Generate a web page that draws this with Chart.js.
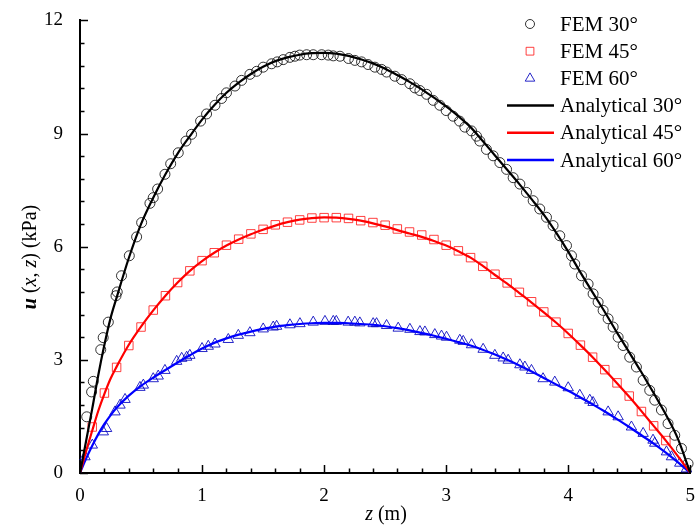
<!DOCTYPE html>
<html>
<head>
<meta charset="utf-8">
<script src="https://cdn.jsdelivr.net/npm/chart.js@4.4.1/dist/chart.umd.min.js"></script>
<style>
  html, body { margin: 0; padding: 0; background: #fff; }
  #wrap { width: 699px; height: 529px; }
</style>
</head>
<body>
<div id="wrap"><canvas id="myChart" width="699" height="529"></canvas></div>
<script>
// analytical curves, z (m) -> u (kPa)
const zLine = [0, 0.05, 0.1, 0.15, 0.2, 0.25, 0.3, 0.4, 0.5, 0.6, 0.7, 0.8, 0.9, 1.0, 1.1, 1.2, 1.3, 1.4, 1.5, 1.6, 1.7, 1.8, 1.9, 2.0,
  2.1, 2.2, 2.3, 2.4, 2.5, 2.6, 2.7, 2.8, 2.9, 3.0, 3.1, 3.2, 3.3, 3.4, 3.5, 3.6, 3.7, 3.8, 3.9, 4.0, 4.1, 4.2, 4.3, 4.4, 4.5, 4.6, 4.7, 4.8, 4.9, 5.0];
const uLine30 = [0, 0.85, 1.7, 2.6, 3.4, 4.1, 4.65, 5.7, 6.6, 7.3, 7.92, 8.47, 8.93, 9.37, 9.75, 10.08, 10.35, 10.58, 10.77, 10.92, 11.02, 11.09, 11.13, 11.14,
  11.12, 11.06, 10.97, 10.86, 10.72, 10.55, 10.37, 10.17, 9.95, 9.72, 9.46, 9.17, 8.8, 8.42, 8.04, 7.66, 7.26, 6.85, 6.38, 5.87, 5.32, 4.79, 4.27, 3.72, 3.2, 2.67, 2.12, 1.55, 0.9, 0];
const uLine45 = [0, 0.58, 1.12, 1.65, 2.1, 2.5, 2.82, 3.4, 3.88, 4.31, 4.7, 5.05, 5.36, 5.62, 5.84, 6.03, 6.19, 6.33, 6.45, 6.56, 6.65, 6.72, 6.76, 6.78,
  6.77, 6.74, 6.69, 6.62, 6.54, 6.44, 6.35, 6.26, 6.15, 6.03, 5.88, 5.71, 5.49, 5.25, 5.02, 4.77, 4.52, 4.26, 3.99, 3.7, 3.39, 3.07, 2.73, 2.38, 2.02, 1.64, 1.25, 0.86, 0.44, 0];
const uLine60 = [0, 0.38, 0.72, 1.03, 1.3, 1.53, 1.73, 2.05, 2.31, 2.53, 2.73, 2.93, 3.12, 3.3, 3.45, 3.57, 3.67, 3.75, 3.82, 3.88, 3.92, 3.95, 3.97, 3.98,
  3.98, 3.97, 3.95, 3.93, 3.89, 3.84, 3.78, 3.71, 3.64, 3.56, 3.47, 3.38, 3.27, 3.14, 3.0, 2.85, 2.69, 2.52, 2.35, 2.18, 2.0, 1.82, 1.63, 1.43, 1.22, 1.0, 0.78, 0.54, 0.28, 0];

// FEM results
const zFem30 = [0.055, 0.095, 0.109, 0.17, 0.19, 0.232, 0.295, 0.305, 0.34, 0.404, 0.464, 0.505, 0.573, 0.6, 0.636, 0.696, 0.743, 0.805, 0.868, 0.914,
  0.988, 1.037, 1.106, 1.16, 1.2, 1.27, 1.324, 1.392, 1.447, 1.501, 1.57, 1.616, 1.665, 1.72, 1.761, 1.8, 1.857, 1.911, 1.98, 2.034,
  2.075, 2.13, 2.2, 2.252, 2.307, 2.36, 2.416, 2.471, 2.512, 2.58, 2.635, 2.703, 2.744, 2.785, 2.84, 2.894, 2.948, 3.0, 3.057, 3.11,
  3.153, 3.208, 3.249, 3.276, 3.33, 3.385, 3.44, 3.495, 3.549, 3.604, 3.658, 3.713, 3.767, 3.822, 3.876, 3.931, 3.986, 4.027, 4.054, 4.109,
  4.163, 4.204, 4.245, 4.286, 4.327, 4.368, 4.409, 4.45, 4.504, 4.559, 4.614, 4.668, 4.709, 4.764, 4.818, 4.873, 4.928, 4.982];
const uFem30 = [1.49, 2.15, 2.43, 3.27, 3.59, 4.0, 4.7, 4.8, 5.23, 5.76, 6.26, 6.64, 7.15, 7.3, 7.53, 7.92, 8.2, 8.49, 8.8, 8.98,
  9.33, 9.52, 9.75, 9.93, 10.08, 10.26, 10.41, 10.57, 10.65, 10.76, 10.85, 10.9, 10.96, 11.02, 11.05, 11.08, 11.09, 11.09, 11.09, 11.08,
  11.06, 11.05, 10.99, 10.94, 10.9, 10.83, 10.76, 10.7, 10.63, 10.52, 10.43, 10.32, 10.21, 10.14, 10.04, 9.88, 9.75, 9.61, 9.46, 9.33,
  9.17, 9.07, 8.93, 8.8, 8.58, 8.41, 8.23, 8.05, 7.83, 7.66, 7.44, 7.22, 7.0, 6.78, 6.56, 6.29, 6.03, 5.76, 5.54, 5.23,
  5.01, 4.75, 4.53, 4.31, 4.09, 3.87, 3.6, 3.38, 3.07, 2.81, 2.46, 2.19, 1.93, 1.67, 1.31, 1.0, 0.65, 0.25];

const zFem45 = [0.1, 0.2, 0.3, 0.4, 0.5, 0.6, 0.7, 0.8, 0.9, 1.0, 1.1, 1.2, 1.3, 1.4, 1.5, 1.6, 1.7, 1.8, 1.9, 2.0, 2.1, 2.2, 2.3, 2.4,
  2.5, 2.6, 2.7, 2.8, 2.9, 3.0, 3.1, 3.2, 3.3, 3.4, 3.5, 3.6, 3.7, 3.8, 3.9, 4.0, 4.1, 4.2, 4.3, 4.4, 4.5, 4.6, 4.7, 4.8];
const uFem45 = [1.22, 2.12, 2.8, 3.38, 3.87, 4.32, 4.7, 5.05, 5.36, 5.63, 5.84, 6.04, 6.2, 6.34, 6.46, 6.58, 6.65, 6.71, 6.76, 6.77,
  6.77, 6.75, 6.69, 6.64, 6.57, 6.47, 6.39, 6.31, 6.19, 6.04, 5.89, 5.71, 5.48, 5.27, 5.04, 4.79, 4.54, 4.27, 4.0, 3.7,
  3.39, 3.07, 2.74, 2.39, 2.04, 1.63, 1.25, 0.86];

const zFem60 = [0.041, 0.101, 0.191, 0.218, 0.287, 0.328, 0.369, 0.491, 0.519, 0.6, 0.641, 0.696, 0.792, 0.833, 0.874, 0.9, 1.0, 1.051, 1.106, 1.215,
  1.297, 1.392, 1.501, 1.583, 1.611, 1.72, 1.802, 1.911, 2.007, 2.075, 2.1, 2.197, 2.252, 2.293, 2.402, 2.43, 2.512, 2.607, 2.703, 2.785,
  2.826, 2.907, 2.962, 3.003, 3.112, 3.14, 3.208, 3.303, 3.399, 3.467, 3.508, 3.604, 3.645, 3.699, 3.794, 3.89, 4.0, 4.095, 4.177, 4.204,
  4.327, 4.409, 4.518, 4.614, 4.695, 4.709, 4.805, 4.846, 4.914, 4.969];
const uFem60 = [0.43, 0.74, 1.09, 1.18, 1.62, 1.8, 1.95, 2.27, 2.33, 2.5, 2.57, 2.72, 2.96, 3.04, 3.07, 3.12, 3.3, 3.36, 3.42, 3.54,
  3.65, 3.72, 3.82, 3.87, 3.89, 3.93, 3.96, 4.0, 4.02, 4.02, 4.02, 4.0, 4.0, 3.98, 3.96, 3.96, 3.91, 3.84, 3.81, 3.75,
  3.74, 3.67, 3.63, 3.6, 3.52, 3.49, 3.4, 3.28, 3.12, 3.05, 2.99, 2.87, 2.81, 2.72, 2.5, 2.41, 2.26, 2.06, 1.93, 1.87,
  1.62, 1.49, 1.22, 1.05, 0.87, 0.79, 0.56, 0.43, 0.26, 0.11];

const serif = '"Liberation Serif", "Times New Roman", serif';

const pts = (xs, ys) => xs.map((x, i) => ({ x: x, y: ys[i] }));

function fem(label, xs, ys, style, border, radius) {
  return {
    label: label,
    data: pts(xs, ys),
    showLine: false,
    pointStyle: style,
    pointRadius: radius,
    pointBorderWidth: 1,
    pointBorderColor: border,
    pointBackgroundColor: 'transparent',
    clip: false,
    order: 2
  };
}

function analytical(label, ys, color) {
  return {
    label: label,
    data: pts(zLine, ys),
    showLine: true,
    borderColor: color,
    borderWidth: 2.2,
    pointRadius: 0,
    cubicInterpolationMode: 'monotone',
    order: 1
  };
}

// inward tick marks, major + minor
const tickMarks = {
  id: 'tickMarks',
  afterDraw(chart) {
    const ctx = chart.ctx;
    const xs = chart.scales.x, ys = chart.scales.y;
    ctx.save();
    ctx.strokeStyle = '#000';
    ctx.lineWidth = 1.5;
    ctx.beginPath();
    for (let k = 0; k <= 20; k++) {
      const py = Math.round(ys.getPixelForValue(k * 0.6)) + 0.5;
      const len = k % 5 === 0 ? 8 : 4.5;
      ctx.moveTo(xs.left, py);
      ctx.lineTo(xs.left + len, py);
    }
    for (let k = 0; k <= 25; k++) {
      const px = Math.round(xs.getPixelForValue(k * 0.2)) + 0.5;
      const len = k % 5 === 0 ? 8 : 4.5;
      ctx.moveTo(px, ys.bottom);
      ctx.lineTo(px, ys.bottom - len);
    }
    ctx.stroke();
    ctx.restore();
  }
};

function richText(ctx, parts, cx, cy) {
  let w = 0;
  parts.forEach(p => { ctx.font = p[1]; w += ctx.measureText(p[0]).width; });
  let x = cx - w / 2;
  ctx.textBaseline = 'middle';
  ctx.textAlign = 'left';
  parts.forEach(p => {
    ctx.font = p[1];
    ctx.fillText(p[0], x, cy);
    x += ctx.measureText(p[0]).width;
  });
}

const axisTitles = {
  id: 'axisTitles',
  afterDraw(chart) {
    const ctx = chart.ctx;
    const n = '20px ' + serif, it = 'italic 20px ' + serif, bi = 'italic bold 20px ' + serif;
    ctx.save();
    ctx.fillStyle = '#000';
    richText(ctx, [['z', it], [' (m)', n]], 386, 515);
    ctx.translate(31, 257);
    ctx.rotate(-Math.PI / 2);
    richText(ctx, [['u', bi], [' (', n], ['x', it], [', ', n], ['z', it], [') (kPa)', n]], 0, 0);
    ctx.restore();
  }
};

const legendBox = {
  id: 'legendBox',
  afterDraw(chart) {
    const ctx = chart.ctx;
    ctx.save();
    chart.data.datasets.forEach((ds, i) => {
      const y = 24 + i * 27.2;
      if (ds.showLine) {
        ctx.strokeStyle = ds.borderColor;
        ctx.lineWidth = 2.5;
        ctx.beginPath();
        ctx.moveTo(507, y);
        ctx.lineTo(554, y);
        ctx.stroke();
      } else {
        ctx.strokeStyle = ds.pointBorderColor;
        ctx.fillStyle = 'transparent';
        ctx.lineWidth = 1;
        Chart.helpers.drawPoint(ctx, { pointStyle: ds.pointStyle, radius: ds.pointRadius - 0.5, borderWidth: 1 }, 530, y);
      }
      ctx.fillStyle = '#000';
      ctx.font = '21px ' + serif;
      ctx.textAlign = 'left';
      ctx.textBaseline = 'middle';
      ctx.fillText(ds.label, 560, y + 1);
    });
    ctx.restore();
  }
};

const ctx = document.getElementById('myChart');

new Chart(ctx, {
  type: 'scatter',
  data: {
    datasets: [
      fem('FEM 30°', zFem30, uFem30, 'circle', 'rgba(0, 0, 0, 0.8)', 5),
      fem('FEM 45°', zFem45, uFem45, 'rect', 'rgba(255, 0, 0, 0.75)', 6),
      fem('FEM 60°', zFem60, uFem60, 'triangle', 'rgba(0, 0, 190, 0.85)', 6),
      analytical('Analytical 30°', uLine30, '#000000'),
      analytical('Analytical 45°', uLine45, '#ff0000'),
      analytical('Analytical 60°', uLine60, '#0000ff')
    ]
  },
  options: {
    responsive: false,
    animation: false,
    devicePixelRatio: 1,
    layout: { padding: { left: 0, right: 3, top: 19, bottom: 0 } },
    plugins: {
      legend: { display: false },
      tooltip: { enabled: false }
    },
    scales: {
      x: {
        type: 'linear',
        min: 0,
        max: 5,
        afterFit: s => { s.height = 56; },
        grid: { display: false },
        border: { display: true, color: '#000', width: 2 },
        ticks: { stepSize: 1, color: '#000', padding: 4, font: { family: serif, size: 19 } }
      },
      y: {
        type: 'linear',
        min: 0,
        max: 12,
        afterFit: s => { s.width = 80; },
        grid: { display: false },
        border: { display: true, color: '#000', width: 2 },
        ticks: { stepSize: 3, color: '#000', padding: 9, font: { family: serif, size: 19 } }
      }
    }
  },
  plugins: [tickMarks, axisTitles, legendBox]
});
</script>
</body>
</html>
